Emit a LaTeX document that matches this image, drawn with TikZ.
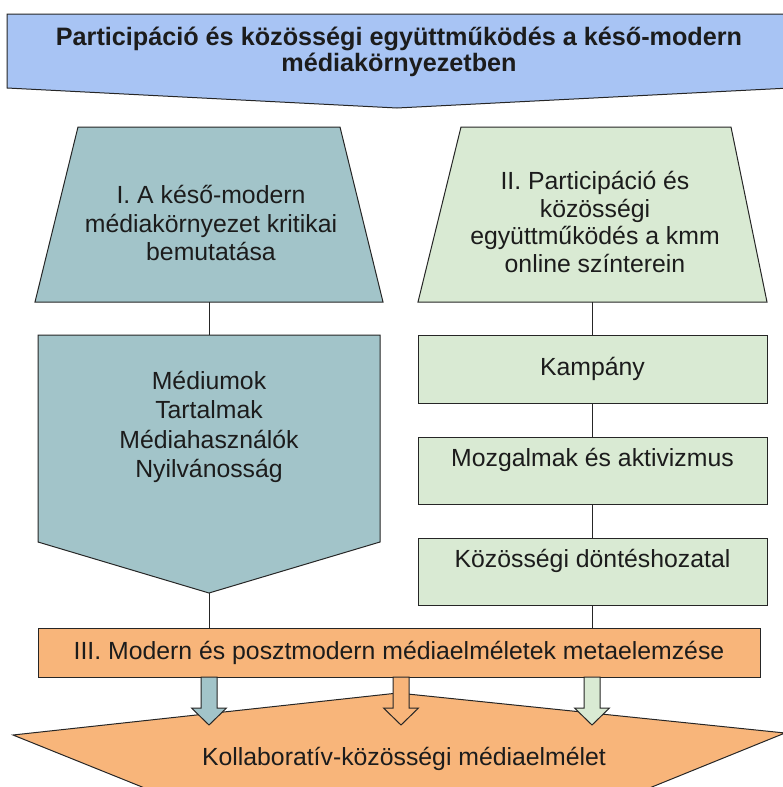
\documentclass[tikz,border=0pt]{standalone}
\usepackage{fontspec}
\setmainfont{Liberation Sans}
\definecolor{bannerblue}{HTML}{A8C4F4}
\definecolor{tealfill}{HTML}{A2C4C9}
\definecolor{greenfill}{HTML}{D9EAD3}
\definecolor{orangefill}{HTML}{F8B57A}
\definecolor{linegray}{HTML}{262626}
\definecolor{textdark}{HTML}{1C1C1C}
\begin{document}
\begin{tikzpicture}[x=1pt,y=-1pt,
  outl/.style={draw=linegray, line width=1pt, line join=miter},
  txt/.style={font=\fontsize{24.8}{28.5}\selectfont, align=center, inner sep=0pt, text=textdark},
  gbox/.style={outl, fill=greenfill, minimum width=349pt, minimum height=67pt, inner sep=0pt,
    font=\fontsize{24.8}{28.5}\selectfont, align=center, text=textdark},
  topbox/.style={gbox, text height=18pt, text depth=27pt},
  conn/.style={draw=linegray, line width=1pt}]
\useasboundingbox (0,0) rectangle (783,787);
\clip (0,0) rectangle (783,787);

% banner
\draw[outl, fill=bannerblue] (7,14) -- (790,14) -- (790,88) -- (397,108) -- (7,88) -- cycle;
\node[txt, font=\bfseries\fontsize{25.2}{26.5}\selectfont] (title) at (399,52)
  {Participáció és közösségi együttműködés a késő-modern\\médiakörnyezetben};

% left trapezoid
\draw[outl, fill=tealfill] (78,127) -- (340,127) -- (383,302) -- (35,302) -- cycle;
\node[txt] (trapL) at (211,223) {I. A késő-modern\\médiakörnyezet kritikai\\bemutatása};
\coordinate (trapLb) at (209,302);

% right trapezoid
\draw[outl, fill=greenfill] (461,127) -- (731,127) -- (767,302) -- (418,302) -- cycle;
\node[txt, font=\fontsize{24.8}{27.5}\selectfont] (trapR) at (595,222)
  {II. Participáció és\\közösségi\\együttműködés a kmm\\online színterein};
\coordinate (trapRb) at (592.5,302);

% left pentagon
\draw[outl, fill=tealfill] (38,335) -- (380,335) -- (380,542) -- (209,593) -- (38,542) -- cycle;
\coordinate (pentTop) at (209,335);
\coordinate (pentTip) at (209,593);
\node[txt, font=\fontsize{24.8}{29.5}\selectfont] (media) at (209,427)
  {Médiumok\\Tartalmak\\Médiahasználók\\Nyilvánosság};

% right boxes
\node[gbox, minimum height=68pt] (kamp) at (592.5,369) {Kampány};
\node[topbox] (mozg) at (592.5,470.5) {Mozgalmak és aktivizmus};
\node[topbox] (koz) at (592.5,571.5) {Közösségi döntéshozatal};

% orange box
\node[outl, fill=orangefill, minimum width=722pt, minimum height=49pt, inner sep=0pt,
  font=\fontsize{24.8}{28.5}\selectfont, text=textdark] (meta) at (399,652.5)
  {III. Modern és posztmodern médiaelméletek metaelemzése};

% connectors
\draw[conn] (trapLb) -- (pentTop);
\draw[conn] (trapRb) -- (kamp.north);
\draw[conn] (kamp.south) -- (mozg.north);
\draw[conn] (mozg.south) -- (koz.north);
\draw[conn] (pentTip) -- (pentTip |- meta.north);
\draw[conn] (koz.south) -- (koz.south |- meta.north);

% bottom shape
\draw[outl, fill=orangefill] (13,735) -- (398,693) -- (785,733) -- (398,890) -- cycle;
\node[txt] (kollab) at (404,759) {Kollaboratív-közösségi médiaelmélet};

% block arrows
\foreach \c/\col in {209/tealfill, 401/orangefill, 592/greenfill}{
  \draw[outl, fill=\col] ({\c-8},677) -- ({\c+8},677) -- ({\c+8},708) -- ({\c+17.5},708)
    -- (\c,725) -- ({\c-17.5},708) -- ({\c-8},708) -- cycle;
}
\end{tikzpicture}
\end{document}
